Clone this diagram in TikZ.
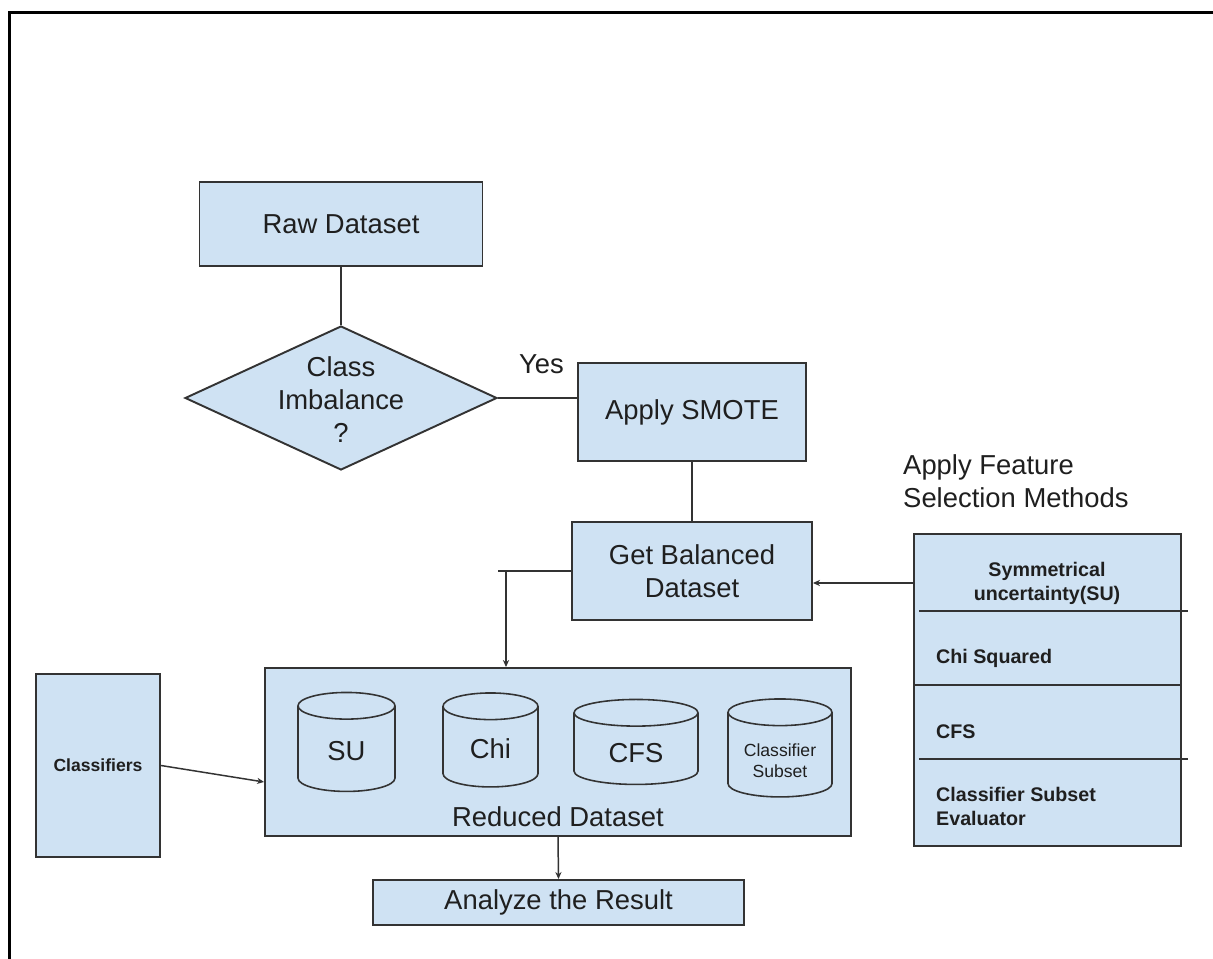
\documentclass[tikz,border=0pt]{standalone}
\usepackage{fontspec}
\setmainfont{Liberation Sans}
\usetikzlibrary{shapes.geometric,arrows.meta}
\definecolor{boxblue}{HTML}{CFE2F3}
\definecolor{edgegray}{HTML}{333333}
\definecolor{inkgray}{HTML}{1F1F1F}

\tikzset{
  box/.style={draw=edgegray, fill=boxblue, line width=1.1pt, inner sep=0pt, align=center, text=inkgray},
  big/.style={font=\fontsize{15.6}{18.8}\selectfont},
  small/.style={font=\bfseries\fontsize{11.2}{13.7}\selectfont, text=inkgray},
  db/.style={cylinder, shape border rotate=90, aspect=0.7, draw=edgegray, fill=boxblue, line width=0.9pt, inner sep=0pt, big},
  dbtext/.style={align=center, text=inkgray},
  link/.style={draw=edgegray, line width=0.85pt},
  arr/.style={link, -{Stealth[length=4pt,width=3.5pt]}}
}

\begin{document}
\begin{tikzpicture}[x=0.02cm, y=-0.02cm]
\useasboundingbox (0,0) rectangle (1213,959);

% Frame round the page
\draw[line width=1.7pt] (9.5,975) -- (9.5,12.5) -- (1230,12.5);

% Main flow
\node[box, big, minimum width=5.66cm, minimum height=1.68cm] (raw) at (341,224) {Raw Dataset};
\node[box, diamond, minimum width=6.24cm, minimum height=2.88cm] (imb) at (341,398) {};
\node[big, align=center, text=inkgray] (imbtext) at (341,400) {Class\\Imbalance\\?};
\node[box, big, minimum width=4.56cm, minimum height=1.96cm] (smote) at (692,412) {Apply SMOTE};
\node[box, big, minimum width=4.8cm, minimum height=1.96cm] (bal) at (692,571) {Get Balanced\\Dataset};

% Feature selection methods
\node[big, align=left, anchor=west, text=inkgray] (methods) at (897,481) {Apply Feature\\Selection Methods};
\node[box, minimum width=5.34cm, minimum height=6.24cm] (feat) at (1047.5,690) {};
\draw[link] (919,611) -- (1188,611);
\draw[link] (914,685) -- (1182,685);
\draw[link] (919,759) -- (1188,759);
\node[small, align=center] (su) at (1047,583) {Symmetrical\\uncertainty(SU)};
\node[small, anchor=west] (chi) at (930,658) {Chi Squared};
\node[small, anchor=west] (cfs) at (930,732) {CFS};
\node[small, anchor=west, align=left] (cse) at (930,806) {Classifier Subset\\Evaluator};

% Reduced dataset with its stores
\node[box, minimum width=11.72cm, minimum height=3.36cm] (red) at (558,752) {};
\node[db, minimum width=1.94cm, minimum height=1.98cm] (dbsu) at (346.5,749) {\phantom{SU}};
\node[db, minimum width=1.9cm, minimum height=1.88cm] (dbchi) at (490.5,747) {\phantom{SU}};
\node[db, minimum width=2.48cm, minimum height=1.7cm] (dbcfs) at (636,749) {\phantom{SU}};
\node[db, minimum width=2.08cm, minimum height=1.96cm] (dbcse) at (780,755) {\phantom{SU}};
\node[dbtext, big] (sutext) at (346.5,751) {SU};
\node[dbtext, big] (chitext) at (490.5,749) {Chi};
\node[dbtext, big] (cfstext) at (636,753) {CFS};
\node[dbtext, font=\fontsize{10}{12}\selectfont] (csetext) at (780,760.5) {Classifier\\Subset};
\node[big, text=inkgray] (redtext) at (558,817) {Reduced Dataset};

\node[box, big, minimum width=7.42cm, minimum height=0.9cm] (ana) at (558.5,902.5) {Analyze the Result};
\node[box, font=\bfseries\fontsize{10}{12}\selectfont, minimum width=2.48cm, minimum height=3.66cm] (clf) at (98,765.5) {Classifiers};

% Connectors
\draw[link] (raw.south) -- (imb.north);
\draw[link] (imb.east) -- (imb.east -| smote.west)
  node[pos=0.55, above=10pt, big, text=inkgray] (yes) {Yes};
\draw[link] (smote.south) -- (bal.north);
\coordinate (turn) at (506,571);
\draw[link] (bal.west) -- (498,571);
\draw[arr] (turn) -- (turn |- red.north);
\draw[arr] (feat.west |- su) -- (bal.east |- su);
\draw[arr] (clf.east) -- ([yshift=-0.6cm]red.west);
\draw[arr] (red.south) -- (ana.north);

\end{tikzpicture}
\end{document}
